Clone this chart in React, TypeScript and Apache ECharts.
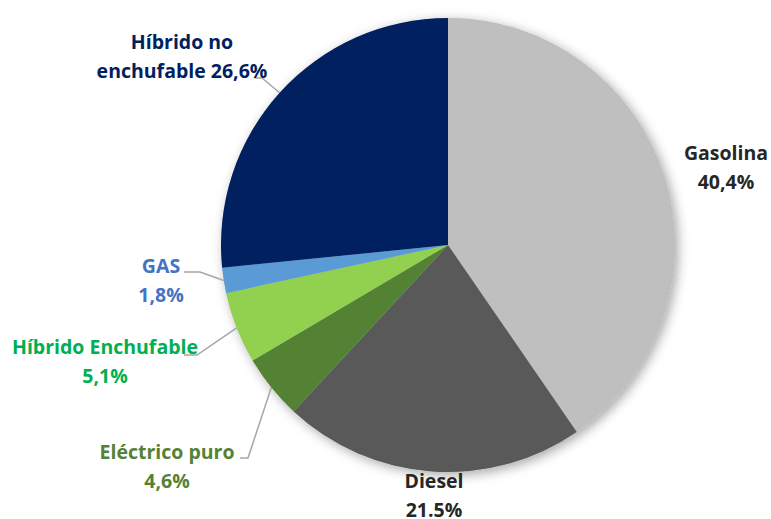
import React, { useEffect, useRef } from "react";
import * as echarts from "echarts";

const categories = [
  "Gasolina",
  "Diesel",
  "Eléctrico puro",
  "Híbrido Enchufable",
  "GAS",
  "Híbrido no enchufable",
];
const shares = [40.4, 21.5, 4.6, 5.1, 1.8, 26.6];
const labelTexts = [
  "Gasolina\n40,4%",
  "Diesel\n21.5%",
  "Eléctrico puro\n4,6%",
  "Híbrido Enchufable\n5,1%",
  "GAS\n1,8%",
  "Híbrido no\nenchufable 26,6%",
];
const sliceColors = ["#bfbfbf", "#595959", "#548235", "#92d050", "#5b9bd5", "#002060"];
const labelColors = ["#262626", "#262626", "#548235", "#00b050", "#4472c4", "#002060"];

// label layout (px)
const labelCenters: number[][] = [
  [726, 167],
  [434, 495],
  [167, 466],
  [105, 361],
  [161, 280],
  [182, 56],
];
const lineElbows: (number[][] | null)[] = [
  null,
  null,
  [
    [248, 458],
    [240, 458],
  ],
  [
    [197, 355],
    [184, 355],
  ],
  [
    [200, 272],
    [184, 272],
  ],
  [
    [262, 78],
    [255, 78],
  ],
];

export default function App() {
  const ref = useRef<HTMLDivElement>(null);
  useEffect(() => {
    if (!ref.current) return;
    const chart = echarts.init(ref.current, undefined, { renderer: "svg" });
    const data = categories.map((name, i) => ({
      name,
      value: shares[i],
      itemStyle: { color: sliceColors[i] },
      label: { color: labelColors[i] },
      labelLine: { show: !!lineElbows[i] },
    }));
    chart.setOption({
      animation: false,
      backgroundColor: "#ffffff",
      series: [
        {
          type: "pie",
          silent: true,
          z: 1,
          center: [448, 245],
          radius: 227,
          label: { show: false },
          labelLine: { show: false },
          itemStyle: {
            color: "#bfbfbf",
            shadowBlur: 12,
            shadowColor: "rgba(0,0,0,0.35)",
            shadowOffsetX: 3,
            shadowOffsetY: 3,
          },
          data: [{ value: 1, name: "shadow" }],
        },
        {
          type: "pie",
          z: 2,
          center: [448, 245],
          radius: 227,
          startAngle: 90,
          clockwise: true,
          avoidLabelOverlap: false,
          itemStyle: { borderWidth: 0 },
          label: {
            show: true,
            position: "outside",
            formatter: (p: any) => labelTexts[p.dataIndex],
            fontFamily: "Open Sans",
            fontWeight: "bold",
            fontSize: 19.5,
            lineHeight: 29,
            align: "center",
          },
          labelLine: {
            show: true,
            length: 10,
            length2: 10,
            lineStyle: { color: "#a6a6a6", width: 1.5 },
          },
          labelLayout: (params: any) => {
            const i = params.dataIndex;
            const c = labelCenters[i];
            const res: any = { x: c[0], y: c[1], align: "center", verticalAlign: "middle" };
            const el = lineElbows[i];
            if (el && params.labelLinePoints) {
              res.labelLinePoints = [params.labelLinePoints[0], el[0], el[1]];
            }
            return res;
          },
          data,
        },
      ],
    });
    return () => chart.dispose();
  }, []);
  return (
    <div
      ref={ref}
      style={{ position: "absolute", left: 0, top: 0, width: 771, height: 519 }}
    />
  );
}
